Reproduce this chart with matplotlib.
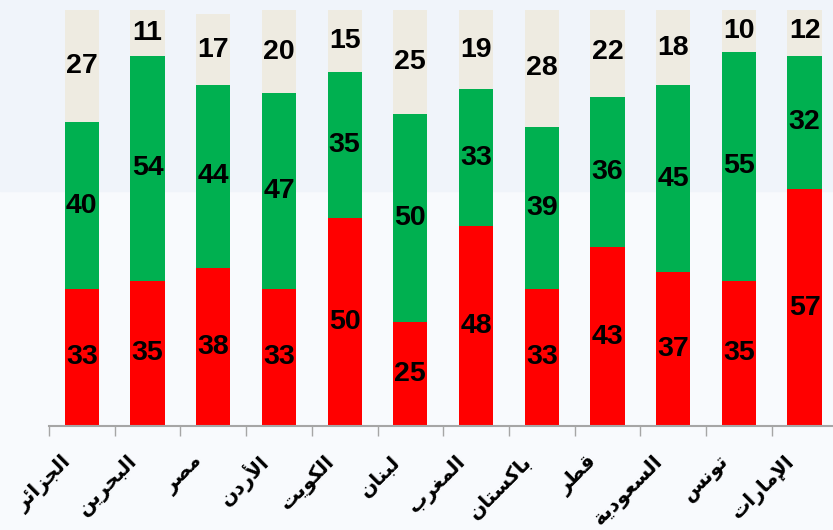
import numpy as np
import matplotlib
matplotlib.use('Agg')
import matplotlib.pyplot as plt
from matplotlib.patches import Rectangle

countries = ['الجزائر', 'البحرين', 'مصر', 'الأردن', 'الكويت', 'لبنان',
             'المغرب', 'باكستان', 'قطر', 'السعودية', 'تونس', 'الإمارات']
red_vals = [33, 35, 38, 33, 50, 25, 48, 33, 43, 37, 35, 57]
green_vals = [40, 54, 44, 47, 35, 50, 33, 39, 36, 45, 55, 32]
beige_vals = [27, 11, 17, 20, 15, 25, 19, 28, 22, 18, 10, 12]

# arabic presentation forms: isolated, final, initial, medial
FORMS = {
    'ا': ('\uFE8D', '\uFE8E', None, None),
    'أ': ('\uFE83', '\uFE84', None, None),
    'إ': ('\uFE87', '\uFE88', None, None),
    'ئ': ('\uFE89', '\uFE8A', '\uFE8B', '\uFE8C'),
    'ب': ('\uFE8F', '\uFE90', '\uFE91', '\uFE92'),
    'ة': ('\uFE93', '\uFE94', None, None),
    'ت': ('\uFE95', '\uFE96', '\uFE97', '\uFE98'),
    'ج': ('\uFE9D', '\uFE9E', '\uFE9F', '\uFEA0'),
    'ح': ('\uFEA1', '\uFEA2', '\uFEA3', '\uFEA4'),
    'د': ('\uFEA9', '\uFEAA', None, None),
    'ر': ('\uFEAD', '\uFEAE', None, None),
    'ز': ('\uFEAF', '\uFEB0', None, None),
    'س': ('\uFEB1', '\uFEB2', '\uFEB3', '\uFEB4'),
    'ص': ('\uFEB9', '\uFEBA', '\uFEBB', '\uFEBC'),
    'ط': ('\uFEC1', '\uFEC2', '\uFEC3', '\uFEC4'),
    'ع': ('\uFEC9', '\uFECA', '\uFECB', '\uFECC'),
    'غ': ('\uFECD', '\uFECE', '\uFECF', '\uFED0'),
    'ق': ('\uFED5', '\uFED6', '\uFED7', '\uFED8'),
    'ك': ('\uFED9', '\uFEDA', '\uFEDB', '\uFEDC'),
    'ل': ('\uFEDD', '\uFEDE', '\uFEDF', '\uFEE0'),
    'م': ('\uFEE1', '\uFEE2', '\uFEE3', '\uFEE4'),
    'ن': ('\uFEE5', '\uFEE6', '\uFEE7', '\uFEE8'),
    'و': ('\uFEED', '\uFEEE', None, None),
    'ي': ('\uFEF1', '\uFEF2', '\uFEF3', '\uFEF4'),
    'لا': ('\uFEFB', '\uFEFC', None, None),
    'لأ': ('\uFEF7', '\uFEF8', None, None),
    'لإ': ('\uFEF9', '\uFEFA', None, None),
}


def shape(word):
    toks = []
    i = 0
    while i < len(word):
        if word[i] == 'ل' and i + 1 < len(word) and word[i:i + 2] in FORMS:
            toks.append(word[i:i + 2])
            i += 2
        else:
            toks.append(word[i])
            i += 1
    out = []
    for k, t in enumerate(toks):
        prev = k > 0 and FORMS[toks[k - 1]][2] is not None
        nxt = k < len(toks) - 1 and FORMS[t][2] is not None
        iso, fin, ini, med = FORMS[t]
        if prev and nxt:
            out.append(med)
        elif prev:
            out.append(fin)
        elif nxt:
            out.append(ini)
        else:
            out.append(iso)
    return ''.join(reversed(out))


x = np.arange(len(countries))
red = np.array(red_vals)
green = np.array(green_vals)
beige = np.array(beige_vals)

fig = plt.figure(figsize=(8.33, 5.30), dpi=100)
fig.patch.set_facecolor('#F8FAFD')
fig.patches.append(Rectangle((0, 0.64), 1, 0.36, transform=fig.transFigure,
                             color='#F0F4FA', zorder=-5))

ax = fig.add_axes([0.0588, 0.196, 0.941, 0.785])
ax.set_facecolor('none')

w = 0.52
ax.bar(x, red, w, color='#FF0000')
ax.bar(x, green, w, bottom=red, color='#00B050')
ax.bar(x, beige, w, bottom=red + green, color='#EEEBE1')

for i in range(len(x)):
    for bot, val in [(0, red[i]), (red[i], green[i]), (red[i] + green[i], beige[i])]:
        ax.text(x[i], bot + val / 2, str(val), ha='center', va='center',
                fontsize=20.5, fontweight='bold', family='Liberation Sans', color='black')

ax.set_xlim(-0.5, 11.43)
ax.set_ylim(0, 100)
for s in ['left', 'right', 'top']:
    ax.spines[s].set_visible(False)
ax.spines['bottom'].set_color('#A6A6A6')
ax.spines['bottom'].set_linewidth(1.5)
ax.set_yticks([])
ax.set_xticks(np.arange(-0.5, 11, 1))
ax.set_xticklabels([])
ax.tick_params(axis='x', direction='out', length=7, color='#A6A6A6', width=1)

for i, c in enumerate(countries):
    ax.text(x[i] - 0.2, -7.8, shape(c), rotation=45, rotation_mode='anchor',
            ha='right', va='center', fontsize=14.5, fontweight='bold',
            family='DejaVu Sans', transform=ax.transData, clip_on=False)

fig.savefig('out.png', dpi=100, facecolor=fig.get_facecolor())
